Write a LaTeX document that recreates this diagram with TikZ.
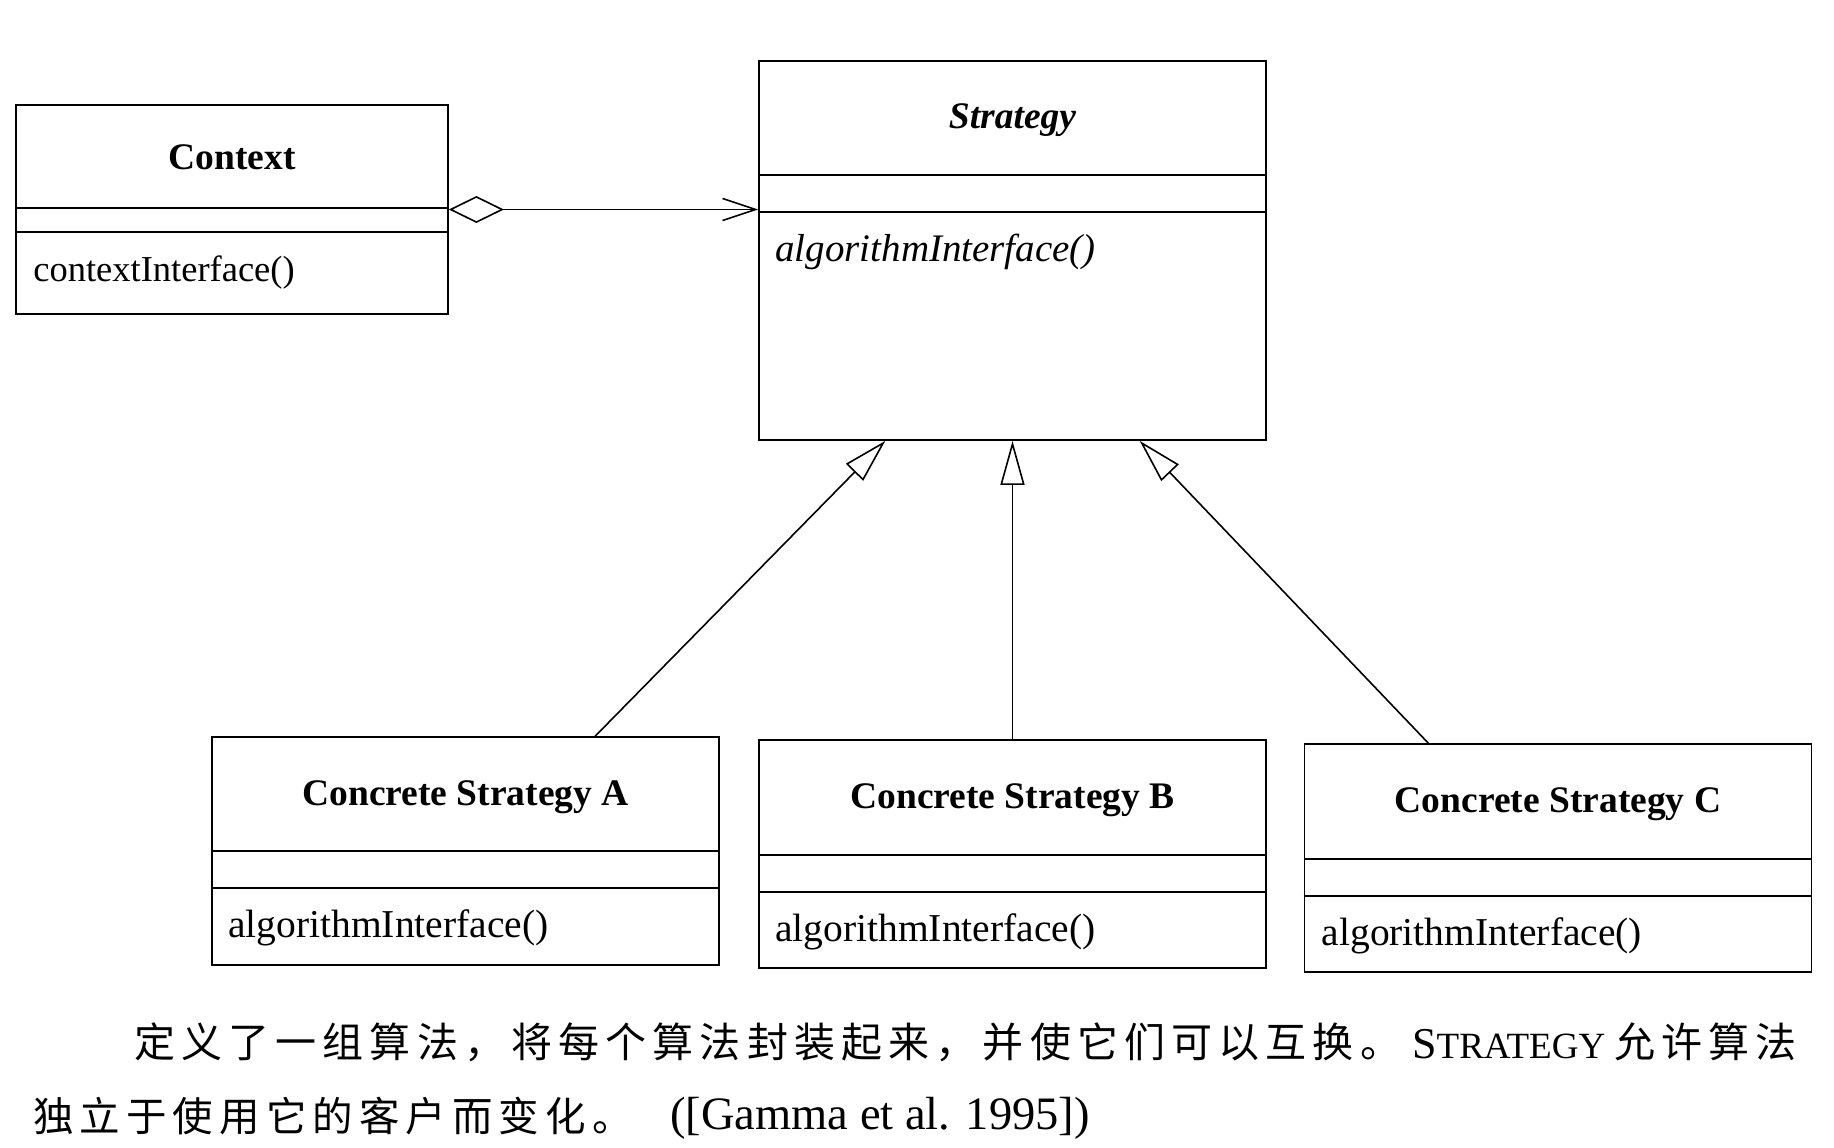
\documentclass[tikz,border=0pt]{standalone}
\usepackage{fontspec}
\setmainfont{Liberation Serif}
\newfontfamily\cjk[LetterSpace=15]{Noto Sans CJK SC}
\usetikzlibrary{arrows.meta, positioning, calc}

\begin{document}
\begin{tikzpicture}[x=1pt, y=-1pt]
                % Styles
                \tikzstyle{classbox}=[draw, line width=1.8pt, minimum width=507pt, inner sep=0pt]
                \tikzstyle{ctitle}=[font=\fontsize{37.5}{44}\selectfont\bfseries, inner sep=0pt]
                \tikzstyle{cmethod}=[font=\fontsize{39.5}{44}\selectfont, anchor=west, inner sep=0pt]
                \tikzstyle{sepline}=[line width=1.8pt]
                \tikzstyle{inherit}=[line width=1.6pt, -{Triangle[open, length=44pt, width=24pt]}]
                \tikzstyle{aggr}=[line width=1.6pt, {Diamond[open, length=55pt, width=27pt]}-{Straight Barb[length=33pt, width=22pt]}]
                \tikzstyle{cjktext}=[font=\cjk\fontsize{41}{48}\selectfont, anchor=base west, inner sep=0pt]
                \tikzstyle{lattext}=[anchor=base west, inner sep=0pt]

                \useasboundingbox (0,0) rectangle (1834,1148);
                \fill[white] (0,0) rectangle (1834,1148);

                % Context
                \node[classbox, minimum width=432pt, minimum height=209pt] (ctx) at (232,209.5) {};
                \draw[sepline] ([yshift=-104pt]ctx.north west) -- ([yshift=-104pt]ctx.north east);
                \draw[sepline] ([yshift=-128pt]ctx.north west) -- ([yshift=-128pt]ctx.north east);
                \node[ctitle] (ctxtitle) at ([yshift=-53pt]ctx.north) {Context};
                \node[cmethod, font=\fontsize{36.5}{44}\selectfont] (ctxop) at ([xshift=18pt, yshift=-168pt]ctx.north west) {contextInterface()};

                % Strategy
                \node[classbox, minimum height=379pt] (strat) at (1012.5,250.5) {};
                \draw[sepline] ([yshift=-115pt]strat.north west) -- ([yshift=-115pt]strat.north east);
                \draw[sepline] ([yshift=-152pt]strat.north west) -- ([yshift=-152pt]strat.north east);
                \node[ctitle, font=\fontsize{37.5}{44}\selectfont\bfseries\itshape] (strattitle) at ([yshift=-60pt]strat.north) {Strategy};
                \node[cmethod, font=\fontsize{39}{44}\selectfont\itshape] (stratop) at ([xshift=17pt, yshift=-192pt]strat.north west) {algorithmInterface()};

                % Concrete Strategy A
                \node[classbox, minimum height=228pt] (csa) at (465.5,851) {};
                \draw[sepline] ([yshift=-115pt]csa.north west) -- ([yshift=-115pt]csa.north east);
                \draw[sepline] ([yshift=-152pt]csa.north west) -- ([yshift=-152pt]csa.north east);
                \node[ctitle] (csatitle) at ([yshift=-61pt]csa.north) {Concrete Strategy A};
                \node[cmethod] (csaop) at ([xshift=17pt, yshift=-192pt]csa.north west) {algorithmInterface()};

                % Concrete Strategy B
                \node[classbox, minimum height=228pt] (csb) at (1012.5,854) {};
                \draw[sepline] ([yshift=-116pt]csb.north west) -- ([yshift=-116pt]csb.north east);
                \draw[sepline] ([yshift=-153pt]csb.north west) -- ([yshift=-153pt]csb.north east);
                \node[ctitle] (csbtitle) at ([yshift=-61pt]csb.north) {Concrete Strategy B};
                \node[cmethod] (csbop) at ([xshift=17pt, yshift=-193pt]csb.north west) {algorithmInterface()};

                % Concrete Strategy C
                \node[classbox, minimum height=228pt] (csc) at (1558,858) {};
                \draw[sepline] ([yshift=-116pt]csc.north west) -- ([yshift=-116pt]csc.north east);
                \draw[sepline] ([yshift=-153pt]csc.north west) -- ([yshift=-153pt]csc.north east);
                \node[ctitle] (csctitle) at ([yshift=-61pt]csc.north) {Concrete Strategy C};
                \node[cmethod] (cscop) at ([xshift=18pt, yshift=-193pt]csc.north west) {algorithmInterface()};

                % Arrows
                \draw[aggr] (ctx.east) -- (ctx.east -| strat.west);
                \draw[inherit] ($(csa.north west)!0.755!(csa.north east)$) -- ($(strat.south west)!0.25!(strat.south east)$);
                \draw[inherit] (csb.north) -- (strat.south);
                \draw[inherit] ($(csc.north west)!0.245!(csc.north east)$) -- ($(strat.south west)!0.75!(strat.south east)$);

                % Caption
                \node[cjktext] (capa) at (134,1057) {定义了一组算法，将每个算法封装起来，并使它们可以互换。};
                \node[lattext] (capb) at (1412,1058) {\fontsize{44}{48}\selectfont S\fontsize{37}{48}\selectfont TRATEGY};
                \node[cjktext] (capc) at (1614,1057) {允许算法};
                \node[cjktext, font=\cjk\fontsize{40.5}{48}\selectfont] (capd) at (33,1131) {独立于使用它的客户而变化。};
                \node[lattext, font=\fontsize{46.5}{52}\selectfont] (cape) at (670,1129) {([Gamma et al. 1995])};
            \end{tikzpicture}
\end{document}
